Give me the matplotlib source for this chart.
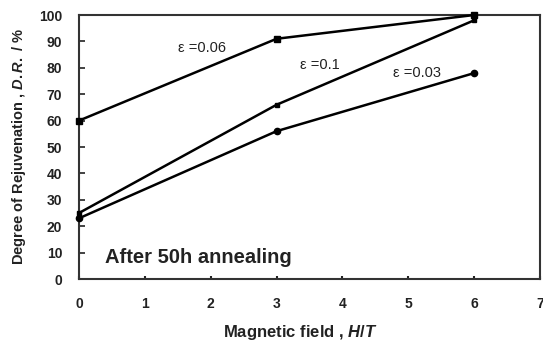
import matplotlib
matplotlib.use("Agg")
import matplotlib.pyplot as plt

plt.rcParams['font.family'] = ['Liberation Sans', 'DejaVu Sans']
plt.rcParams['mathtext.fontset'] = 'custom'
plt.rcParams['mathtext.it'] = 'Liberation Sans:italic:bold'
plt.rcParams['mathtext.rm'] = 'Liberation Sans:bold'

field = [0, 3, 6]
dr_006 = [60, 91, 100]
dr_01 = [25, 66, 98]
dr_003 = [23, 56, 78]
labels = ["ε =0.06", "ε =0.1", "ε =0.03"]
xticks = [0, 1, 2, 3, 4, 5, 6, 7]
yticks = [0, 10, 20, 30, 40, 50, 60, 70, 80, 90, 100]

fig = plt.figure(figsize=(5.43, 3.45), dpi=100)
ax = fig.add_axes([0.1455, 0.1913, 0.849, 0.7652])

ax.plot(field, dr_006, color='black', lw=1.8, marker='s', ms=5, clip_on=False, zorder=3)
ax.plot(field, dr_01, color='black', lw=1.8, marker='s', ms=3.5, clip_on=False, zorder=3)
ax.plot(field, dr_003, color='black', lw=1.8, marker='o', ms=4.5, clip_on=False, zorder=3)

ax.set_xlim(0, 7)
ax.set_ylim(0, 100)
ax.set_xticks(xticks)
ax.set_yticks(yticks)
ax.tick_params(axis='y', direction='in', length=4, width=1.2, labelsize=10, colors='#222222', pad=12)
ax.tick_params(axis='x', direction='in', length=2, width=1.5, labelsize=10, colors='#222222', pad=13)
for lab in ax.get_xticklabels() + ax.get_yticklabels():
    lab.set_fontweight('bold')
for s in ax.spines.values():
    s.set_linewidth(1.5)
    s.set_color('#333333')

ax.text(1.5, 87.5, labels[0], fontsize=10.5, color='#222222', va='center')
ax.text(3.35, 81, labels[1], fontsize=10.5, color='#222222', va='center')
ax.text(4.77, 78, labels[2], fontsize=10.5, color='#222222', va='center')
ax.text(0.39, 8, "After 50h annealing", fontsize=14.5, fontweight='bold', color='#222222', va='center')

ax.set_xlabel(r"Magnetic field , $\it{H/T}$", fontsize=12, fontweight='bold', color='#222222')
ax.set_ylabel(r"Degree of Rejuvenation , $\it{D.R.}$ / %", fontsize=10.5, fontweight='bold', color='#222222')
ax.xaxis.set_label_coords(0.479, -0.167)
ax.yaxis.set_label_coords(-0.111, 0.50)

fig.savefig("out.png", dpi=100)
